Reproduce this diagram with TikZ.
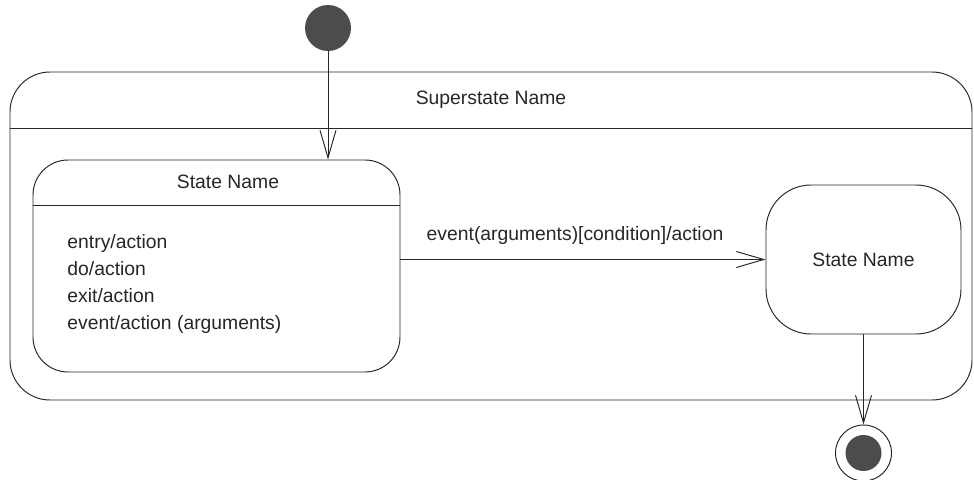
\documentclass[tikz,border=0pt]{standalone}
\usepackage{fontspec}
\setmainfont{Liberation Sans}
\usepackage{tikz}
\usepackage{xcolor}
\usetikzlibrary{arrows.meta}

\begin{document}
\begin{tikzpicture}[line width=0.55pt, draw=black!85]
			\useasboundingbox (0,0) rectangle (19.48,-9.58);
			\tikzstyle{every node}=[font=\fontsize{11}{14}\selectfont, text=black!85]
			\tikzstyle{state}=[rectangle, rounded corners=0.7cm, draw=black!85]
			\tikzstyle{dot}=[circle, fill=black!70, inner sep=0pt]
			\tikzstyle{line}=[anchor=base west, inner sep=0pt]
			\tikzstyle{trans}=[-{Straight Barb[length=0.55cm,width=0.32cm]}, draw=black!85]
			% superstate
			\node[state, rounded corners=0.8cm, minimum width=19.24cm, minimum height=6.56cm] (super) at (9.82,-4.72) {};
			\draw (super.west |- 0,-2.56) -- (super.east |- 0,-2.56);
			\node (supername) at (9.82,-2.0) {Superstate Name};
			% left state
			\node[state, minimum width=7.34cm, minimum height=4.24cm] (lstate) at (4.33,-5.32) {};
			\draw (lstate.west |- 0,-4.1) -- (lstate.east |- 0,-4.1);
			\node (lname) at (4.56,-3.64) {State Name};
			\node[line] (entry) at (1.34,-4.96) {entry/action};
			\node[line] (do) at (1.34,-5.50) {do/action};
			\node[line] (exit) at (1.34,-6.04) {exit/action};
			\node[line] (ev) at (1.34,-6.58) {event/action (arguments)};
			% right state
			\node[state, rounded corners=0.9cm, minimum width=3.9cm, minimum height=2.98cm] (rstate) at (17.27,-5.19) {State Name};
			% initial and final
			\node[dot, minimum size=0.92cm] (init) at (6.56,-0.56) {};
			\node[circle, draw=black!85, minimum size=1.12cm, inner sep=0pt] (final) at (17.27,-9.06) {};
			\node[dot, minimum size=0.72cm] (finaldot) at (final) {};
			% transitions
			\draw[trans] (init.south) -- (init.south |- lstate.north);
			\draw[trans] (rstate.west -| lstate.east) -- (rstate.west)
				node[midway, above=5pt, xshift=-0.16cm] (evlabel) {event(arguments)[condition]/action};
			\draw[trans] (rstate.south) -- (final.north);
		\end{tikzpicture}
\end{document}
